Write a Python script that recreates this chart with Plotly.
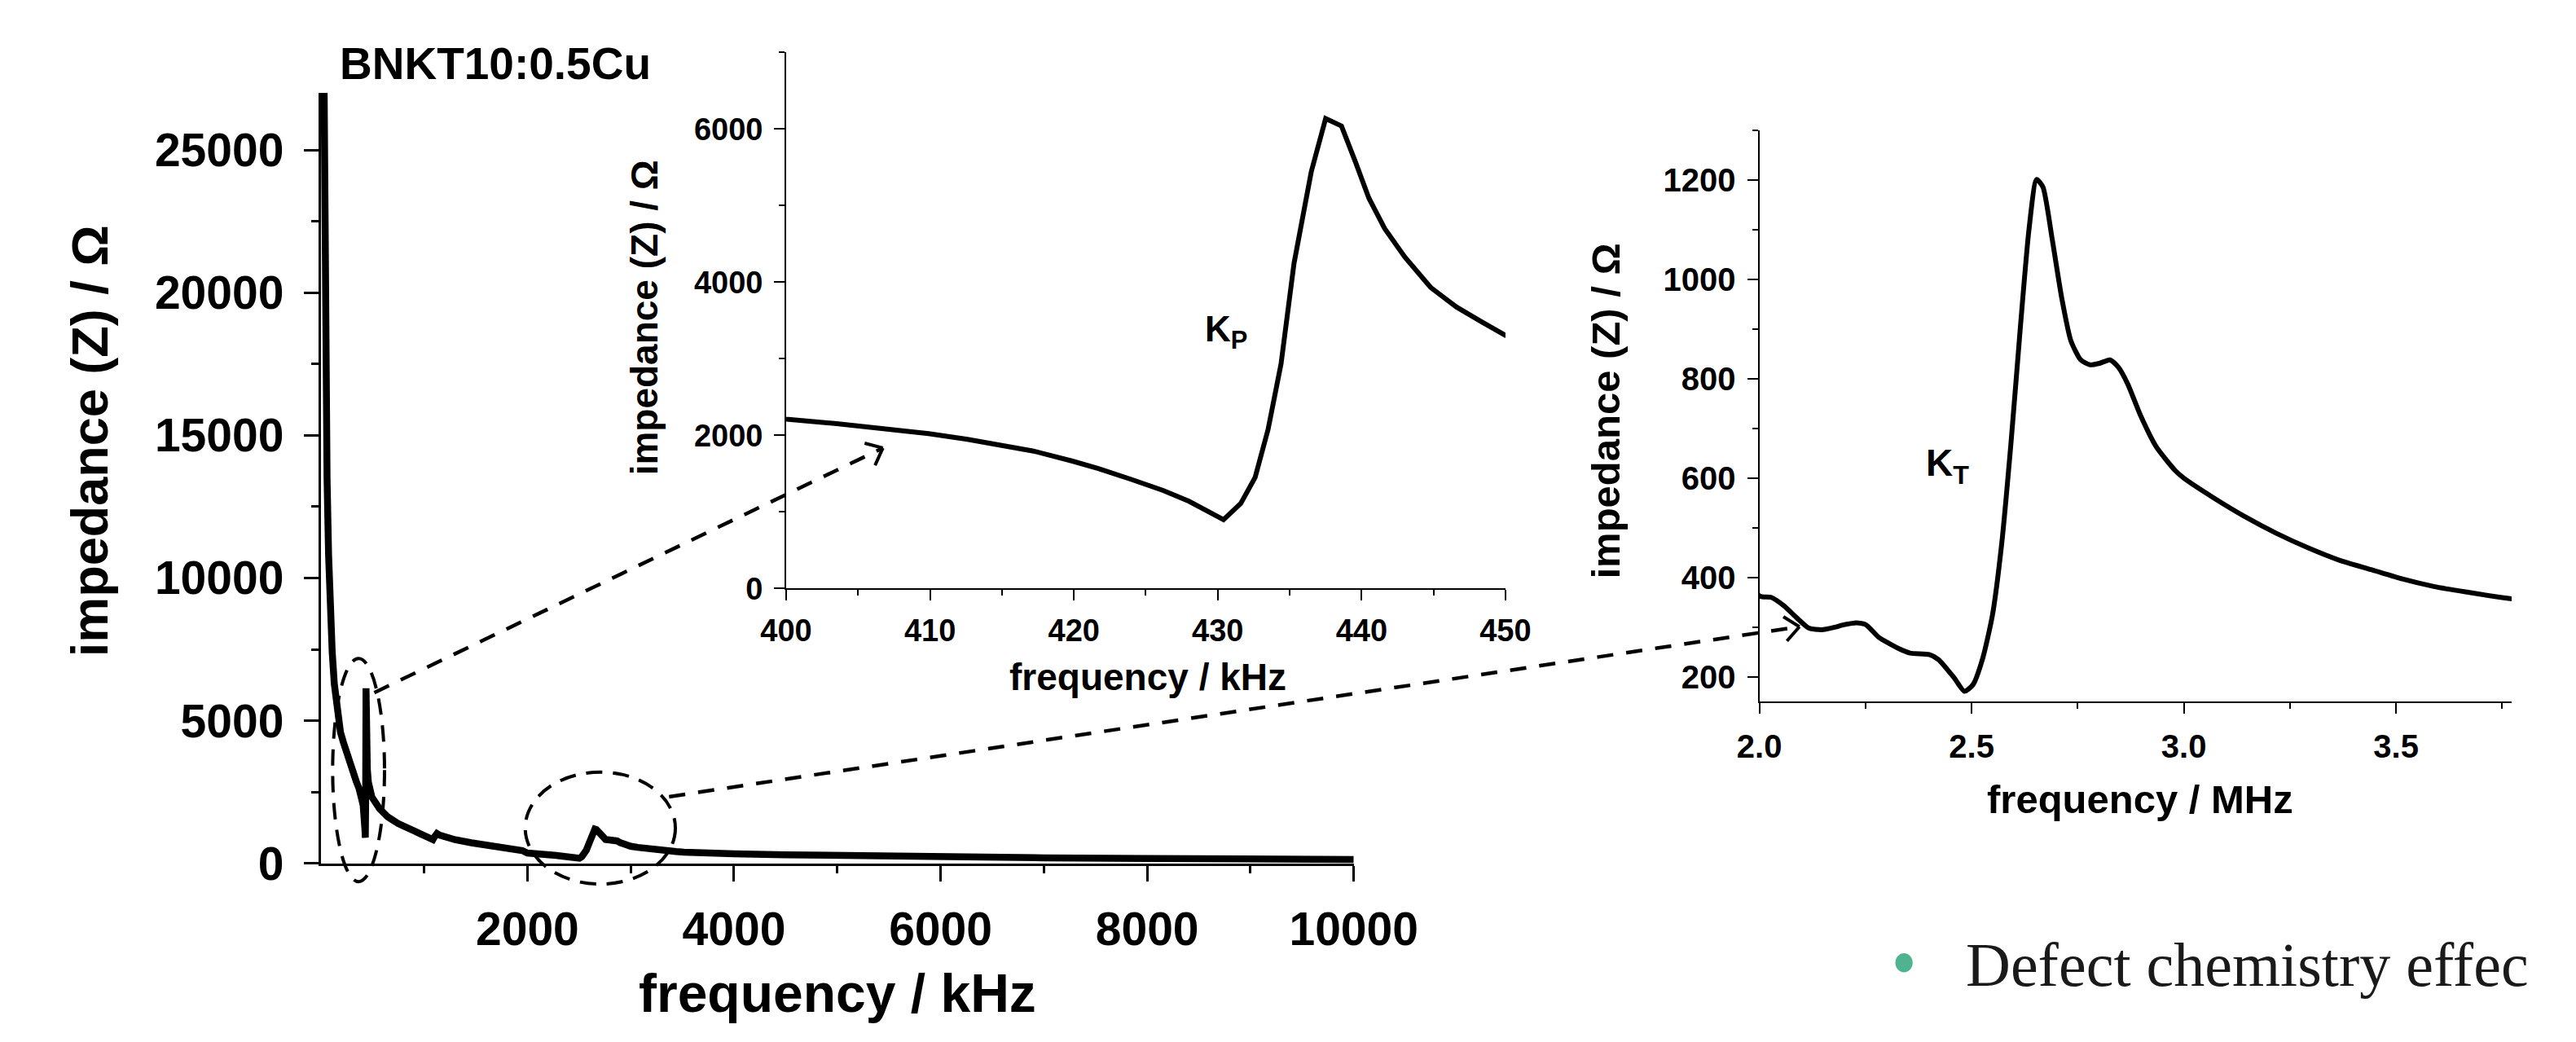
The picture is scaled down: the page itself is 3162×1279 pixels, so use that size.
import math
import plotly.graph_objects as go

W, H = 3162, 1279

# ---------------- data ----------------
# low-frequency capacitive branch, kHz / Ohm
lf_freq_khz = [30, 35, 40, 50, 60, 75, 90, 110, 130, 150, 170, 190, 216, 250, 280, 310, 342, 370, 390]
lf_z_ohm = [28000, 24000, 20500, 16500, 13500, 10800, 9000, 7400, 6300, 5600, 5000, 4600, 4270, 3850, 3520, 3200, 2880, 2620, 2420]

# planar (Kp) resonance region, kHz / Ohm
kp_freq_khz = [400, 403.5, 407.2, 409.9, 412.6, 415.3, 417.2, 419.9, 421.7, 424.0, 426.2, 428.0, 429.4, 430.4,
               431.6, 432.6, 433.5, 434.4, 435.3, 436.5, 437.5, 438.6, 439.6, 440.5, 441.6, 443.0, 444.8,
               446.6, 448.4, 450.0]
kp_z_ohm = [2211, 2154, 2080, 2023, 1949, 1863, 1795, 1664, 1567, 1425, 1282, 1140, 997, 900,
            1111, 1453, 2080, 2934, 4245, 5442, 6137, 6040, 5556, 5100, 4701, 4330, 3932,
            3675, 3476, 3305]

# intermediate branch, kHz / Ohm
mid_freq_khz = [460, 475, 494, 571, 647, 748, 850, 951, 1040, 1070, 1085, 1100, 1124, 1150, 1205, 1300,
                1458, 1600, 1712, 1890, 1950]
mid_z_ohm = [2850, 2550, 2324, 1907, 1630, 1398, 1231, 1093, 935, 870, 835, 930, 1046, 990, 917, 830,
             722, 650, 593, 519, 450]

# thickness (Kt) resonance region, MHz / Ohm
kt_freq_mhz = [2.000, 2.028, 2.058, 2.088, 2.117, 2.147, 2.177, 2.199, 2.229, 2.251, 2.281, 2.326, 2.355,
               2.400, 2.422, 2.459, 2.483, 2.503, 2.526, 2.549, 2.571, 2.593, 2.615, 2.635, 2.653, 2.668,
               2.690, 2.712, 2.734, 2.757, 2.779, 2.801, 2.826, 2.846, 2.868, 2.898, 2.935, 2.980, 3.000,
               3.069, 3.143, 3.218, 3.292, 3.366, 3.441, 3.515, 3.589, 3.664, 3.765]
kt_z_ohm = [363, 360, 343, 319, 298, 295, 300, 305, 309, 305, 280, 258, 248,
            245, 235, 198, 171, 184, 237, 324, 469, 673, 905, 1099, 1201, 1186,
            1080, 964, 876, 838, 828, 831, 838, 823, 789, 726, 663, 615, 600,
            561, 523, 489, 460, 435, 416, 397, 382, 371, 358]

# high-frequency tail, kHz / Ohm
hf_freq_khz = [3800, 4000, 4500, 5000, 5500, 6000, 7000, 8000, 9000, 10000]
hf_z_ohm = [355, 338, 302, 272, 248, 228, 196, 171, 152, 137]

# tick values / labels
main_x_ticks = [2000, 4000, 6000, 8000, 10000]
main_x_minor = [1000, 3000, 5000, 7000, 9000]
main_y_ticks = [0, 5000, 10000, 15000, 20000, 25000]
main_y_minor = [2500, 7500, 12500, 17500, 22500]
kp_x_ticks = [400, 410, 420, 430, 440, 450]
kp_x_minor = [405, 415, 425, 435, 445]
kp_y_ticks = [0, 2000, 4000, 6000]
kp_y_minor = [1000, 3000, 5000, 7000]
kt_x_ticks = [2.0, 2.5, 3.0, 3.5]
kt_x_labels = ["2.0", "2.5", "3.0", "3.5"]
kt_x_minor = [2.25, 2.75, 3.25, 3.75]
kt_y_ticks = [200, 400, 600, 800, 1000, 1200]
kt_y_minor = [300, 500, 700, 900, 1100, 1300]

# ---------------- helpers ----------------
def px(x):
    return x / W


def py(y):
    return 1 - y / H


FONT = "Liberation Sans, Arial, sans-serif"

all_freq_khz = lf_freq_khz + kp_freq_khz + mid_freq_khz + [f * 1000 for f in kt_freq_mhz] + hf_freq_khz
all_z_ohm = lf_z_ohm + kp_z_ohm + mid_z_ohm + kt_z_ohm + hf_z_ohm

fig = go.Figure()
fig.add_trace(go.Scatter(x=all_freq_khz, y=all_z_ohm, mode="lines",
                         line=dict(color="black", width=8.5), xaxis="x", yaxis="y",
                         showlegend=False, hoverinfo="skip"))
fig.add_trace(go.Scatter(x=all_freq_khz, y=all_z_ohm, mode="lines",
                         line=dict(color="black", width=6), xaxis="x2", yaxis="y2",
                         showlegend=False, hoverinfo="skip"))
fig.add_trace(go.Scatter(x=[f / 1000 for f in all_freq_khz], y=all_z_ohm, mode="lines",
                         line=dict(color="black", width=6, shape="spline", smoothing=0.6),
                         xaxis="x3", yaxis="y3", showlegend=False, hoverinfo="skip"))


def axis(domain, rng, anchor, tickvals, ticktext, minorvals, lw, tl, mtl, size, standoff=0):
    return dict(domain=domain, range=rng, anchor=anchor, showline=True, linecolor="black",
                linewidth=lw, ticks="outside", ticklen=tl, tickwidth=lw, tickcolor="black",
                showgrid=False, zeroline=False, tickmode="array", tickvals=tickvals,
                ticktext=ticktext, ticklabelstandoff=standoff,
                tickfont=dict(family=FONT, size=size, color="black", weight="bold"),
                minor=dict(tickmode="array", tickvals=minorvals, ticks="outside", ticklen=mtl,
                           tickwidth=lw, tickcolor="black", showgrid=False),
                fixedrange=True)


kt_range_end = 2.0 + (W - 2205) / 540.0

fig.update_layout(
    width=W, height=H, margin=dict(l=0, r=0, t=0, b=0),
    paper_bgcolor="white", plot_bgcolor="rgba(0,0,0,0)", showlegend=False,
    xaxis=axis([px(375), px(1689)], [0, 10000], "y", main_x_ticks, [str(v) for v in main_x_ticks],
               main_x_minor, 3, 19, 9, 57, 10),
    yaxis=axis([py(1087), py(117)], [0, 27000], "x", main_y_ticks, [str(v) for v in main_y_ticks],
               main_y_minor, 3, 18, 9, 57, 13),
    xaxis2=axis([px(967), px(1882)], [400, 450], "y2", kp_x_ticks, [str(v) for v in kp_x_ticks],
                kp_x_minor, 2, 13, 7, 38, 4),
    yaxis2=axis([py(741), py(66)], [0, 7000], "x2", kp_y_ticks, [str(v) for v in kp_y_ticks],
                kp_y_minor, 2, 13, 7, 38, 6),
    xaxis3=axis([px(2205), 1.0], [2.0, kt_range_end], "y3", kt_x_ticks, kt_x_labels,
                kt_x_minor, 2, 13, 7, 40, 6),
    yaxis3=axis([py(883.5), py(164)], [150, 1300], "x3", kt_y_ticks, [str(v) for v in kt_y_ticks],
                kt_y_minor, 2, 13, 7, 40, 6),
)


def text(x, y, s, size, angle=0, weight="bold", family=FONT, xanchor="center", color="black"):
    return dict(x=px(x), y=py(y), xref="paper", yref="paper", text=s, showarrow=False,
                textangle=angle, xanchor=xanchor, yanchor="middle",
                font=dict(family=family, size=size, color=color, weight=weight))


annotations = [
    text(597, 80, "BNKT10:0.5Cu", 55),
    text(1032, 1250, "frequency / kHz", 66),
    text(81, 555, "impedance (Z) / \u03a9", 63, angle=-90),
    text(1427, 852, "frequency / kHz", 46),
    text(787, 400, "impedance (Z) / \u03a9", 46, angle=-90),
    text(2689, 1006, "frequency / MHz", 49),
    text(2010, 517, "impedance (Z) / \u03a9", 49, angle=-90),
    text(1527, 417, "K<sub>P</sub>", 44),
    text(2444, 586, "K<sub>T</sub>", 46),
    text(2466, 1214, "Defect chemistry effec", 76, weight="normal",
         family="Liberation Serif, Times New Roman, serif", xanchor="left", color="#1a1a1a"),
]

DASH_LONG = "20px,16px"
DASH_ELL = "20px,13px"


def seg(x0, y0, x1, y1, dash=None, width=4.5):
    return dict(type="line", xref="paper", yref="paper", x0=px(x0), y0=py(y0), x1=px(x1), y1=py(y1),
                line=dict(color="black", width=width, dash=dash), layer="above")


def chevron(x0, y0, x1, y1, arm=24, width=4.0):
    dx, dy = x1 - x0, y1 - y0
    L = math.hypot(dx, dy)
    ux, uy = dx / L, dy / L
    out = []
    for ang in (math.radians(40), math.radians(-40)):
        bx = -ux * math.cos(ang) + uy * math.sin(ang)
        by = -uy * math.cos(ang) - ux * math.sin(ang)
        out.append(seg(x1, y1, x1 + bx * arm, y1 + by * arm, width=width))
    return out


shapes = [
    dict(type="circle", xref="paper", yref="paper", x0=px(390), x1=px(456), y0=py(1110), y1=py(829),
         line=dict(color="black", width=4, dash=DASH_ELL), layer="above"),
    dict(type="circle", xref="paper", yref="paper", x0=px(635), x1=px(826), y0=py(1113), y1=py(972),
         line=dict(color="black", width=4, dash=DASH_ELL), layer="above"),
    seg(443, 872, 1090, 564, dash=DASH_LONG),
    seg(818, 1003, 2256, 789, dash=DASH_LONG),
    dict(type="circle", xref="paper", yref="paper", x0=px(2378), x1=px(2400), y0=py(1224), y1=py(1200),
         fillcolor="#4fb38f", line=dict(width=0), layer="above"),
]
shapes += chevron(443, 872, 1090, 564)
shapes += chevron(818, 1003, 2256, 789)

fig.update_layout(annotations=annotations, shapes=shapes)

fig.write_html("out.html", config={"displayModeBar": False},
               post_script="document.body.style.margin='0';document.body.style.overflow='hidden';")
